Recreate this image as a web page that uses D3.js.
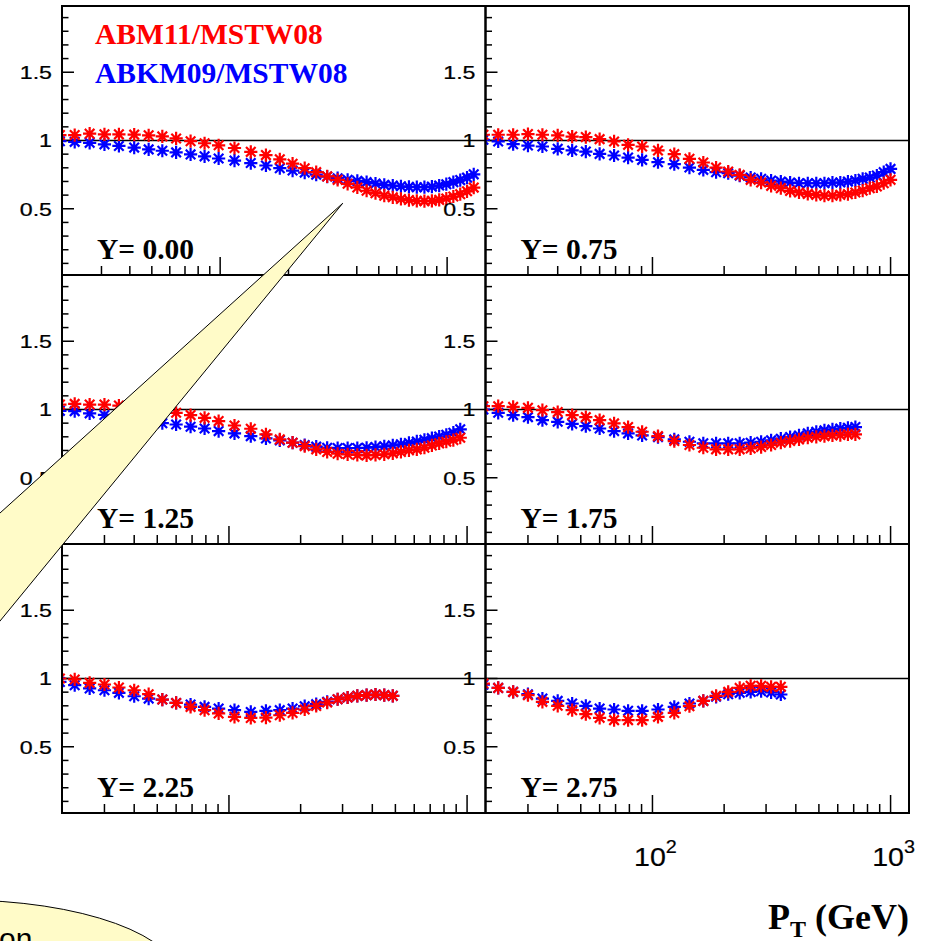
<!DOCTYPE html>
<html>
<head>
<meta charset="utf-8">
<script src="https://cdn.jsdelivr.net/npm/d3@7"></script>
<style>
  html, body { margin: 0; padding: 0; background: #ffffff; }
  svg { display: block; }
</style>
</head>
<body>
<svg id="chart" width="935" height="941"></svg>
<script>
// Jet pT bin centres (GeV)
const ptBins = [19.5, 22.5, 26, 30, 34.5, 40, 46, 52.5, 60, 69, 79, 90.5, 105.5, 123.5, 143, 163.5,
  185, 208, 232.5, 258.5, 286, 315, 346, 378.5, 412.5, 449, 487.5, 527.5, 570, 615, 662, 711.5,
  763.5, 818, 875.5, 936, 999.5, 1066.5];

// Rapidity bins, one panel each
const rapidityLabels = ["Y= 0.00", "Y= 0.75", "Y= 1.25", "Y= 1.75", "Y= 2.25", "Y= 2.75"];

// ABM11 / MSTW08 ratios
const abm11_y000 = [1.04, 1.04, 1.05, 1.045, 1.045, 1.043, 1.038, 1.03, 1.015, 0.995, 0.98, 0.965, 0.945, 0.917, 0.893, 0.862, 0.83, 0.797, 0.768, 0.737, 0.712, 0.683, 0.656, 0.632, 0.614, 0.596, 0.584, 0.572, 0.564, 0.558, 0.556, 0.558, 0.565, 0.575, 0.59, 0.607, 0.628, 0.655];
const abm11_y075 = [1.042, 1.042, 1.042, 1.047, 1.042, 1.037, 1.029, 1.025, 1.01, 0.993, 0.968, 0.956, 0.927, 0.9, 0.866, 0.839, 0.802, 0.773, 0.748, 0.712, 0.692, 0.668, 0.651, 0.631, 0.619, 0.609, 0.602, 0.596, 0.596, 0.602, 0.607, 0.619, 0.633, 0.651, 0.663, 0.687, 0.712];
const abm11_y125 = [1.036, 1.041, 1.036, 1.036, 1.029, 1.02, 1.005, 0.99, 0.976, 0.959, 0.939, 0.915, 0.883, 0.859, 0.818, 0.781, 0.757, 0.732, 0.708, 0.689, 0.676, 0.672, 0.667, 0.664, 0.667, 0.672, 0.679, 0.689, 0.701, 0.708, 0.72, 0.737, 0.752, 0.764, 0.776, 0.793];
const abm11_y175 = [1.024, 1.024, 1.019, 1.012, 0.995, 0.981, 0.959, 0.944, 0.922, 0.898, 0.871, 0.837, 0.805, 0.769, 0.74, 0.72, 0.708, 0.708, 0.708, 0.715, 0.725, 0.74, 0.757, 0.769, 0.781, 0.793, 0.8, 0.805, 0.81, 0.813, 0.818, 0.818];
const abm11_y225 = [1.0, 0.993, 0.968, 0.956, 0.934, 0.914, 0.885, 0.846, 0.821, 0.792, 0.768, 0.744, 0.719, 0.711, 0.714, 0.731, 0.748, 0.773, 0.799, 0.824, 0.848, 0.861, 0.873, 0.878, 0.883, 0.878, 0.873];
const abm11_y275 = [0.963, 0.931, 0.902, 0.878, 0.829, 0.8, 0.768, 0.739, 0.712, 0.695, 0.695, 0.695, 0.719, 0.748, 0.797, 0.836, 0.873, 0.902, 0.931, 0.946, 0.946, 0.939, 0.939];

// ABKM09 / MSTW08 ratios
const abkm09_y000 = [0.995, 0.99, 0.983, 0.972, 0.96, 0.948, 0.935, 0.925, 0.913, 0.898, 0.884, 0.868, 0.853, 0.835, 0.817, 0.797, 0.78, 0.765, 0.75, 0.736, 0.724, 0.712, 0.704, 0.695, 0.685, 0.675, 0.67, 0.665, 0.66, 0.658, 0.658, 0.662, 0.67, 0.68, 0.695, 0.71, 0.728, 0.752];
const abkm09_y075 = [1.005, 0.993, 0.973, 0.963, 0.956, 0.939, 0.927, 0.919, 0.902, 0.89, 0.875, 0.858, 0.841, 0.827, 0.802, 0.785, 0.768, 0.761, 0.743, 0.729, 0.719, 0.707, 0.699, 0.692, 0.687, 0.687, 0.687, 0.687, 0.692, 0.692, 0.699, 0.707, 0.719, 0.729, 0.743, 0.768, 0.792];
const abkm09_y125 = [0.99, 0.988, 0.972, 0.96, 0.95, 0.935, 0.92, 0.9, 0.89, 0.874, 0.861, 0.842, 0.825, 0.805, 0.788, 0.774, 0.757, 0.74, 0.728, 0.72, 0.718, 0.718, 0.718, 0.72, 0.725, 0.73, 0.737, 0.745, 0.755, 0.766, 0.778, 0.79, 0.802, 0.815, 0.83, 0.855];
const abkm09_y175 = [1.0, 0.976, 0.959, 0.944, 0.922, 0.91, 0.895, 0.878, 0.861, 0.842, 0.825, 0.81, 0.798, 0.781, 0.764, 0.752, 0.752, 0.752, 0.752, 0.757, 0.764, 0.774, 0.786, 0.798, 0.81, 0.825, 0.837, 0.847, 0.854, 0.861, 0.866, 0.871];
const abkm09_y225 = [0.975, 0.951, 0.927, 0.914, 0.895, 0.87, 0.853, 0.846, 0.821, 0.809, 0.792, 0.78, 0.768, 0.755, 0.763, 0.768, 0.78, 0.797, 0.812, 0.829, 0.848, 0.861, 0.873, 0.878, 0.883, 0.878, 0.873];
const abkm09_y275 = [0.955, 0.931, 0.902, 0.885, 0.853, 0.836, 0.817, 0.8, 0.78, 0.773, 0.763, 0.763, 0.773, 0.792, 0.817, 0.836, 0.866, 0.885, 0.895, 0.902, 0.907, 0.898, 0.883];

// Axis tick labels
const yTickLabels = [0.5, 1, 1.5];
const xTickLabels = [{v: 100, base: "10", exp: "2"}, {v: 1000, base: "10", exp: "3"}];

const seriesNames = ["ABM11/MSTW08", "ABKM09/MSTW08"];
const seriesColors = ["#ff0000", "#0000ff"];

const abm11 = [abm11_y000, abm11_y075, abm11_y125, abm11_y175, abm11_y225, abm11_y275];
const abkm09 = [abkm09_y000, abkm09_y075, abkm09_y125, abkm09_y175, abkm09_y225, abkm09_y275];

// ---------------------------------------------------------------
const svg = d3.select("#chart");
const frame = {left: 62, right: 909, top: 6, bottom: 813};
const colW = (frame.right - frame.left) / 2;
const rowH = (frame.bottom - frame.top) / 3;
const ptDomain = [19.9, 1195];
const ratioDomain = [0.015, 1.985];
// the first pad carries a slightly wider tick axis
const tickDomains = [[20.1, 1476], ptDomain, ptDomain, ptDomain, ptDomain, ptDomain];

const starPath = "M-5.5,0H5.5M0,-5.5V5.5M-4,-4L4,4M-4,4L4,-4";
const SANS = "'Liberation Sans', Arial, sans-serif";
const SERIF = "'Liberation Serif', 'Times New Roman', serif";

function wideText(g, x, y, str, size, anchor) {
  return g.append("text")
    .attr("transform", `translate(${x},${y}) scale(1.22,1)`)
    .attr("text-anchor", anchor)
    .attr("font-family", SANS)
    .attr("font-size", size)
    .attr("fill", "#000")
    .attr("stroke", "#000").attr("stroke-width", 0.25)
    .text(str);
}

const defs = svg.append("defs");
const plotLayer = svg.append("g");

rapidityLabels.forEach((label, i) => {
  const col = i % 2, row = Math.floor(i / 2);
  const x0 = frame.left + col * colW, y0 = frame.top + row * rowH;
  const x = d3.scaleLog().domain(ptDomain).range([x0, x0 + colW]);
  const xt = d3.scaleLog().domain(tickDomains[i]).range([x0, x0 + colW]);
  const y = d3.scaleLinear().domain(ratioDomain).range([y0 + rowH, y0]);

  const g = plotLayer.append("g");
  const clipId = "clip" + i;
  defs.append("clipPath").attr("id", clipId)
    .append("rect").attr("x", x0).attr("y", y0).attr("width", colW).attr("height", rowH);

  // unity reference line
  g.append("line")
    .attr("x1", x0).attr("x2", x0 + colW)
    .attr("y1", y(1)).attr("y2", y(1))
    .attr("stroke", "#000").attr("stroke-width", 1.5);

  // x ticks along the bottom edge
  const xTicks = xt.ticks().filter(v => Math.abs(xt(v) - x0) > 1.5 && Math.abs(xt(v) - x0 - colW) > 1.5);
  g.selectAll("line.xt").data(xTicks).enter().append("line")
    .attr("x1", d => xt(d)).attr("x2", d => xt(d))
    .attr("y1", y0 + rowH)
    .attr("y2", d => y0 + rowH - (Math.abs(Math.log10(d) - Math.round(Math.log10(d))) < 1e-6 ? 18 : 9))
    .attr("stroke", "#000").attr("stroke-width", 1.5);

  // y ticks along the left edge
  const yTicks = d3.range(1, 20).map(k => k / 10);
  g.selectAll("line.yt").data(yTicks).enter().append("line")
    .attr("x1", x0)
    .attr("x2", d => x0 + (Math.abs(d * 2 - Math.round(d * 2)) < 1e-6 ? 12 : 6.5))
    .attr("y1", d => y(d)).attr("y2", d => y(d))
    .attr("stroke", "#000").attr("stroke-width", 1.5);

  // y tick labels
  yTickLabels.forEach(v => {
    wideText(g, x0 - 10, y(v) + 6.8, String(v), 19, "end");
  });

  // data markers
  const pts = g.append("g").attr("clip-path", `url(#${clipId})`);
  [abkm09[i], abm11[i]].forEach((vals, s) => {
    const color = s === 0 ? seriesColors[1] : seriesColors[0];
    pts.selectAll(null).data(vals).enter().append("path")
      .attr("d", starPath)
      .attr("transform", (d, k) => `translate(${x(ptBins[k])},${y(d)})`)
      .attr("fill", "none")
      .attr("stroke", color)
      .attr("stroke-width", 2.2)
      .attr("stroke-linecap", "square");
  });

  // rapidity label
  g.append("text")
    .attr("x", x0 + 35).attr("y", y0 + rowH - 15.7)
    .attr("font-family", SERIF).attr("font-weight", "bold")
    .attr("font-size", 29.5).attr("fill", "#000")
    .text(label);

  // panel frame
  g.append("rect")
    .attr("x", x0).attr("y", y0).attr("width", colW).attr("height", rowH)
    .attr("fill", "none").attr("stroke", "#000").attr("stroke-width", 2);

  // x tick labels under the bottom-right pad
  if (i === 5) {
    xTickLabels.forEach(t => {
      const tx = xt(t.v) + 3;
      const txt = g.append("text")
        .attr("transform", `translate(${tx},${866}) scale(1.1,1)`)
        .attr("text-anchor", "middle")
        .attr("font-family", SANS).attr("font-size", 26).attr("fill", "#000")
        .attr("stroke", "#000").attr("stroke-width", 0.2);
      txt.append("tspan").text(t.base);
      txt.append("tspan").attr("font-size", 18).attr("dy", -13).text(t.exp);
    });
  }
});

// legend
seriesNames.forEach((name, s) => {
  svg.append("text")
    .attr("x", 95).attr("y", 44.3 + s * 39)
    .attr("font-family", SERIF).attr("font-weight", "bold")
    .attr("font-size", 29.5).attr("fill", seriesColors[s])
    .text(name);
});

// x axis title
const xTitle = svg.append("text")
  .attr("x", 909).attr("y", 929)
  .attr("text-anchor", "end")
  .attr("font-family", SERIF).attr("font-weight", "bold")
  .attr("font-size", 36).attr("fill", "#000");
xTitle.append("tspan").text("P");
xTitle.append("tspan").attr("font-size", 24).attr("dy", 8).text("T");
xTitle.append("tspan").attr("dy", -8).text(" (GeV)");

// annotation callout
const callout = svg.append("g");
callout.append("ellipse")
  .attr("cx", -40).attr("cy", 980).attr("rx", 220).attr("ry", 80)
  .attr("fill", "#fffbc8").attr("stroke", "#000").attr("stroke-width", 1);
callout.append("path")
  .attr("d", "M342.7,203.3 L-100,603.4 L-100,742.9 Z")
  .attr("fill", "#fffbc8").attr("stroke", "#000").attr("stroke-width", 1)
  .attr("stroke-linejoin", "miter");
callout.append("text")
  .attr("x", -1).attr("y", 949)
  .attr("font-family", SANS).attr("font-size", 30).attr("fill", "#000")
  .text("on");
</script>
</body>
</html>
